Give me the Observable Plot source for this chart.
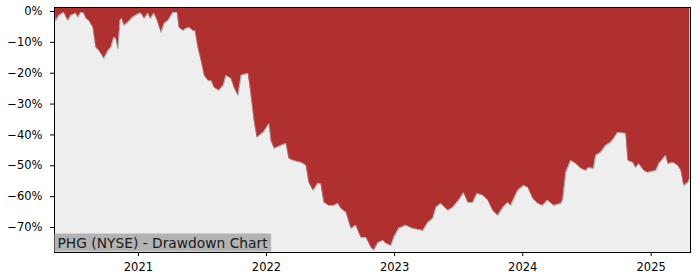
<!DOCTYPE html>
<html>
<head>
<meta charset="utf-8">
<script src="https://cdn.jsdelivr.net/npm/d3@7"></script>
<script src="https://cdn.jsdelivr.net/npm/@observablehq/plot@0.6"></script>
<style>
  html, body { margin: 0; padding: 0; background: #ffffff; }
  #chart { width: 700px; height: 280px; }
</style>
</head>
<body>
<div id="chart"></div>
<script>
// Drawdown series (percent from running peak)
const dates = [
  "2020-05-07","2020-05-11","2020-05-20","2020-06-03","2020-06-14","2020-06-23","2020-07-07","2020-07-13",
  "2020-07-21","2020-07-30","2020-08-05","2020-08-13","2020-08-25","2020-09-02","2020-09-11","2020-09-25",
  "2020-10-07","2020-10-15","2020-10-23","2020-10-29","2020-11-04","2020-11-10","2020-11-15","2020-11-21",
  "2020-12-02","2020-12-16","2021-01-04","2021-01-09","2021-01-18","2021-01-29","2021-02-04","2021-02-15",
  "2021-02-24","2021-03-07","2021-03-16","2021-03-27","2021-04-10","2021-04-22","2021-04-27","2021-05-09",
  "2021-05-17","2021-05-26","2021-06-06","2021-06-12","2021-06-20","2021-06-29","2021-07-08","2021-07-19",
  "2021-07-28","2021-08-05","2021-08-19","2021-08-31","2021-09-08","2021-09-22","2021-10-01","2021-10-12",
  "2021-10-21","2021-10-29","2021-11-10","2021-11-16","2021-11-27","2021-12-05","2021-12-23","2022-01-06",
  "2022-01-09","2022-01-14","2022-01-23","2022-02-12","2022-02-26","2022-03-06","2022-03-18","2022-04-10",
  "2022-04-24","2022-05-02","2022-05-14","2022-05-28","2022-06-05","2022-06-14","2022-06-28","2022-07-13",
  "2022-07-24","2022-08-01","2022-08-16","2022-08-30","2022-09-13","2022-09-27","2022-10-12","2022-10-26",
  "2022-11-03","2022-11-15","2022-11-29","2022-12-08","2022-12-22","2022-12-30","2023-01-13","2023-02-02",
  "2023-02-22","2023-03-23","2023-04-06","2023-04-20","2023-04-29","2023-05-13","2023-06-02","2023-06-16",
  "2023-07-03","2023-07-17","2023-07-29","2023-08-12","2023-08-24","2023-09-10","2023-09-24","2023-10-08",
  "2023-10-22","2023-11-06","2023-11-20","2023-11-28","2023-12-18","2024-01-04","2024-01-16","2024-01-30",
  "2024-02-13","2024-02-27","2024-03-12","2024-03-30","2024-04-19","2024-04-24","2024-05-03","2024-05-17",
  "2024-06-01","2024-06-15","2024-06-29","2024-07-07","2024-07-21","2024-07-27","2024-08-10","2024-08-25",
  "2024-09-08","2024-09-16","2024-09-28","2024-10-21","2024-10-27","2024-11-10","2024-11-18","2024-11-27",
  "2024-12-11","2024-12-22","2025-01-15","2025-01-23","2025-02-12","2025-02-18","2025-03-04","2025-03-18",
  "2025-03-27","2025-04-04","2025-04-16","2025-04-21"
];
const drawdown = [
  0.0, -2.9, -1.3, -0.3, -2.9, -1.3, -0.6, -1.9,
  -0.3, -0.6, -2.3, -2.9, -5.2, -11.7, -12.6, -15.2,
  -12.6, -11.7, -8.4, -8.7, -12.0, -2.9, -2.3, -4.5,
  -3.6, -1.9, -0.6, -0.6, -2.3, -0.6, -2.3, -0.6,
  -2.9, -6.8, -3.9, -2.9, -0.3, -0.3, -5.2, -6.2,
  -5.5, -5.2, -6.2, -6.2, -11.7, -15.9, -20.7, -22.4,
  -22.4, -24.6, -25.6, -24.0, -20.7, -21.7, -24.6, -27.2,
  -20.7, -20.4, -20.1, -25.0, -35.3, -40.8, -39.2, -36.9,
  -36.3, -41.8, -44.4, -43.4, -42.8, -47.6, -48.3, -48.9,
  -49.9, -55.4, -58.0, -55.7, -55.7, -61.9, -62.9, -62.9,
  -62.2, -63.8, -65.1, -70.3, -69.3, -73.2, -73.2, -76.5,
  -77.4, -74.9, -74.2, -75.2, -75.8, -73.2, -70.3, -69.3,
  -70.3, -71.0, -68.4, -67.1, -63.5, -62.2, -64.5, -63.5,
  -61.2, -58.7, -61.9, -61.9, -59.0, -59.6, -61.2, -64.5,
  -66.1, -63.5, -61.9, -62.9, -58.0, -56.4, -57.0, -60.6,
  -62.2, -62.9, -61.2, -62.9, -62.2, -61.2, -52.2, -48.3,
  -49.3, -50.9, -51.5, -50.6, -50.9, -46.7, -45.7, -43.4,
  -42.4, -41.2, -39.2, -39.5, -48.3, -48.9, -50.6, -49.3,
  -51.5, -52.2, -51.5, -49.3, -46.7, -49.3, -48.9, -49.9,
  -51.5, -56.4, -55.4, -54.1
];
const yearTicks = ["2021-01-01","2022-01-01","2023-01-01","2024-01-01","2025-01-01"];
const yTicks = [0, -10, -20, -30, -40, -50, -60, -70];
const chartLabel = "PHG (NYSE) - Drawdown Chart";

const data = dates.map((d, i) => ({date: new Date(d + "T00:00:00Z"), dd: drawdown[i]}));
const yDomain = [-78.1, 1.3];
const xDomain = [new Date("2020-05-07T00:00:00Z"), new Date("2025-04-23T00:00:00Z")];

const fmtPct = d => (d < 0 ? "\u2212" : "") + Math.abs(d) + "%";

const plot = Plot.plot({
  width: 700,
  height: 280,
  marginLeft: 54,
  marginRight: 10,
  marginTop: 7,
  marginBottom: 28,
  style: {fontFamily: "DejaVu Sans, sans-serif", fontSize: "11.5px", color: "#000", background: "#ffffff"},
  x: {type: "utc", domain: xDomain},
  y: {domain: yDomain},
  marks: [
    Plot.frame({fill: "#eeeeee", stroke: null}),
    Plot.areaY(data, {x: "date", y1: "dd", y2: yDomain[1], fill: "#b03030"}),
    Plot.lineY(data, {x: "date", y: "dd", stroke: "#8c8c8c", strokeWidth: 0.7}),
    Plot.axisY({ticks: yTicks, tickFormat: fmtPct, tickSize: 4, tickPadding: 8, label: null, fontSize: "11.5px", fill: "#000"}),
    Plot.axisX({ticks: yearTicks.map(d => new Date(d + "T00:00:00Z")), tickFormat: d3.utcFormat("%Y"), tickSize: 4, tickPadding: 6.5, label: null, fontSize: "11.5px", fill: "#000"}),
    Plot.frame({stroke: "#000", strokeWidth: 1}),
    Plot.text([chartLabel], {frameAnchor: "bottom-left", dx: 3, dy: -5, text: d => d, textAnchor: "start", lineAnchor: "bottom", fontSize: "13.8px", fill: "#1a1a1a", className: "ddlabel"})
  ]
});

document.getElementById("chart").appendChild(plot);

// grey box behind the label, sized from the rendered text (screen coords -> svg coords)
const t = plot.querySelector(".ddlabel text");
if (t) {
  const sr = plot.getBoundingClientRect();
  const tr = t.getBoundingClientRect();
  const left = 54;           // plot frame left
  const bottom = 280 - 28;   // plot frame bottom
  const top = tr.top - sr.top - 1;
  const right = tr.right - sr.left + 3;
  const rect = document.createElementNS("http://www.w3.org/2000/svg", "rect");
  rect.setAttribute("x", left + 0.5);
  rect.setAttribute("y", top);
  rect.setAttribute("width", right - left - 0.5);
  rect.setAttribute("height", bottom - top - 0.5);
  rect.setAttribute("fill", "#b3b3b3");
  const g = t.closest("g.ddlabel") || t.parentNode;
  g.parentNode.insertBefore(rect, g);
}
</script>
</body>
</html>
